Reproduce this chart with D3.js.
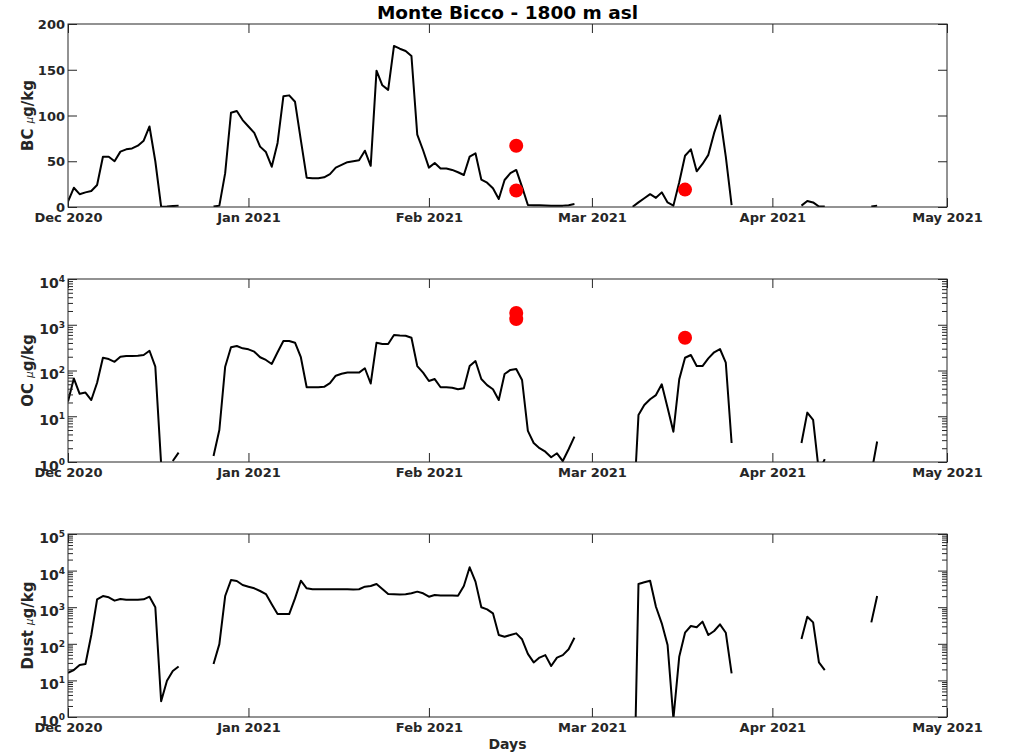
<!DOCTYPE html>
<html>
<head>
<meta charset="utf-8">
<script src="https://cdn.jsdelivr.net/npm/d3@7"></script>
<style>
  body { margin: 0; background: #fff; }
  svg text { font-family: "DejaVu Sans", sans-serif; }
</style>
</head>
<body>
<svg id="chart" width="1010" height="754"></svg>
<script>
// daily series, index 0 = 1 Dec 2020, null = no sample
var startDay = "2020-12-01";
var monthTicks = ["2020-12-01", "2021-01-01", "2021-02-01", "2021-03-01", "2021-04-01", "2021-05-01"];

var bcValues = [
  6, 21, 14, 16, 17.5, 24, 55, 55, 50, 60.5, 63, 64, 67, 72.5, 88, 50, 0.3, 0.5, 1, 1.5,
  null, null, null, null, null,
  0.5, 1.5, 37, 103, 105, 95, 88, 81, 66, 60, 44, 70, 121, 122, 115, 73, 32, 31.5, 31.5, 32.5,
  36, 43, 46, 49, 50, 51, 61.5, 45, 149, 133, 128, 176, 173, 170.5, 165, 79, 62, 43, 48, 42,
  42, 40.5, 38, 35, 55, 58.7, 30, 26.6, 20.4, 8.7, 29.5, 37, 40.5, 22, 2.2, 2, 1.8, 1.6, 1.5, 1.5,
  1.5, 2, 3.3,
  null, null, null, null, null, null, null, null, null,
  0.3, 5, 9.5, 14, 10, 16, 5, 1.5, 27, 56, 63, 39, 47, 57, 81, 100, 55, 2,
  null, null, null, null, null, null, null, null, null, null, null,
  1.5, 6.5, 5, 0.5, 0.5,
  null, null, null, null, null, null, null,
  0.5, 1.5
];

var ocValues = [
  21, 67, 31, 33, 22.6, 54, 190, 178, 155, 200, 207, 207, 210, 218, 270, 121, 0.9, null, 1.05, 1.6,
  null, null, null, null, null,
  1.35, 5, 121, 321, 343, 305, 290, 258, 195, 170, 139, 250, 440, 440, 405, 195, 43, 43, 43, 44,
  53, 77, 85, 90, 90, 90, 112, 52, 405, 380, 380, 597, 580, 575, 521, 125, 90, 59, 65, 43,
  43, 42, 39, 41, 125, 161, 65, 48, 39, 22.6, 84, 103, 108, 62, 4.8, 2.6, 2.0, 1.68, 1.27, 1.55,
  1.05, 1.9, 3.6,
  null, null, null, null, null, null, null, null, null,
  0.04, 10.6, 17.6, 23.5, 29, 50, 15.4, 4.6, 64, 190, 218, 125, 125, 184, 250, 295, 148, 2.6,
  null, null, null, null, null, null, null, null, null, null, null,
  2.6, 12, 8.3, 0.6, 1.16,
  null, null, null, null, null, null, null,
  0.56, 2.8
];

var dustValues = [
  16.2, 19.2, 26.4, 28, 174, 1640, 2020, 1860, 1510, 1670, 1590, 1590, 1590, 1640, 1940, 1000, 2.7, 9.8, 18, 24,
  null, null, null, null, null,
  28, 98, 2020, 5500, 5200, 4040, 3640, 3280, 2770, 2280, 1200, 650, 650, 650, 1740, 5300, 3280, 3100, 3100, 3100,
  3100, 3100, 3100, 3100, 3050, 3100, 3640, 3800, 4300, 3140, 2280, 2250, 2230, 2250, 2400, 2660, 2400, 1940, 2150, 2100,
  2100, 2100, 2050, 3800, 12300, 4990, 1000, 875, 680, 174, 156, 174, 193, 133, 53, 31, 42, 49, 24.7, 42,
  49, 71, 147,
  null, null, null, null, null, null, null, null, null,
  0.0001, 4300, 4800, 5300, 1030, 363, 93, 0.9, 44, 201, 307, 283, 403, 174, 224, 340, 201, 15.6,
  null, null, null, null, null, null, null, null, null, null, null,
  135, 550, 385, 31, 19.2,
  null, null, null, null, null, null, null,
  385, 2020
];

// red markers
var dotDays = ["2021-02-16", "2021-02-16", "2021-03-17"];
var bcDotValues = [67, 18, 19];
var ocDotValues = [1800, 1330, 520];

var bcTicks = [0, 50, 100, 150, 200];

var left = 68, right = 947, H = 183;
var axisColor = "#262626";

var parse = d3.utcParse("%Y-%m-%d");
var day0 = parse(startDay);
var svg = d3.select("#chart");

var x = d3.scaleUtc()
  .domain([parse(monthTicks[0]), parse(monthTicks[monthTicks.length - 1])])
  .range([left, right]);

var panels = [
  { top: 24, name: "BC", values: bcValues, dots: bcDotValues, log: false, domain: [0, 200] },
  { top: 279, name: "OC", values: ocValues, dots: ocDotValues, log: true, domain: [1, 1e4] },
  { top: 534, name: "Dust", values: dustValues, dots: null, log: true, domain: [1, 1e5] }
];

function styleAxis(g) {
  g.select(".domain").remove();
  g.selectAll(".tick line").attr("stroke", axisColor);
  g.selectAll(".tick text")
    .attr("fill", axisColor)
    .attr("font-size", "13px")
    .attr("font-weight", "bold");
}

panels.forEach(function (p, pi) {
  var g = svg.append("g").attr("transform", "translate(0," + p.top + ")");

  var y = (p.log ? d3.scaleLog() : d3.scaleLinear()).domain(p.domain).range([H, 0]);

  g.append("clipPath").attr("id", "clip" + pi)
    .append("rect").attr("x", left).attr("y", 0).attr("width", right - left).attr("height", H);

  var data = p.values.map(function (v, i) {
    return { date: d3.utcDay.offset(day0, i), v: v };
  });

  var line = d3.line()
    .defined(function (d) { return d.v != null; })
    .x(function (d) { return x(d.date); })
    .y(function (d) { return y(d.v); });

  g.append("path")
    .datum(data)
    .attr("clip-path", "url(#clip" + pi + ")")
    .attr("fill", "none")
    .attr("stroke", "#000")
    .attr("stroke-width", 2)
    .attr("stroke-linejoin", "round")
    .attr("d", line);

  if (p.dots) {
    g.selectAll("circle.dot")
      .data(p.dots)
      .enter()
      .append("circle")
      .attr("class", "dot")
      .attr("cx", function (d, i) { return x(parse(dotDays[i])); })
      .attr("cy", function (d) { return y(d); })
      .attr("r", 7)
      .attr("fill", "#ff0000");
  }

  // x axes (bottom labelled, top ticks only)
  var months = monthTicks.map(parse);
  g.append("g")
    .attr("transform", "translate(0," + H + ")")
    .call(d3.axisBottom(x).tickValues(months).tickFormat(d3.utcFormat("%b %Y"))
      .tickSizeInner(-9).tickSizeOuter(0).tickPadding(6))
    .call(styleAxis)
    .selectAll(".tick text").attr("dy", "0.71em");
  g.append("g")
    .call(d3.axisTop(x).tickValues(months).tickFormat("").tickSizeInner(-9).tickSizeOuter(0))
    .call(styleAxis);

  // y axes
  var majors, minors = [];
  if (p.log) {
    var maxExp = Math.round(Math.log10(p.domain[1]));
    majors = d3.range(0, maxExp + 1).map(function (e) { return Math.pow(10, e); });
    d3.range(0, maxExp).forEach(function (e) {
      d3.range(2, 10).forEach(function (k) { minors.push(k * Math.pow(10, e)); });
    });
  } else {
    majors = bcTicks;
  }

  var gl = g.append("g")
    .attr("transform", "translate(" + left + ",0)")
    .call(d3.axisLeft(y).tickValues(majors).tickSizeInner(-9).tickSizeOuter(0).tickPadding(3))
    .call(styleAxis);
  g.append("g")
    .attr("transform", "translate(" + right + ",0)")
    .call(d3.axisRight(y).tickValues(majors).tickFormat("").tickSizeInner(-9).tickSizeOuter(0))
    .call(styleAxis);

  if (p.log) {
    g.append("g")
      .attr("transform", "translate(" + left + ",0)")
      .call(d3.axisLeft(y).tickValues(minors).tickFormat("").tickSizeInner(-5).tickSizeOuter(0))
      .call(styleAxis);
    g.append("g")
      .attr("transform", "translate(" + right + ",0)")
      .call(d3.axisRight(y).tickValues(minors).tickFormat("").tickSizeInner(-5).tickSizeOuter(0))
      .call(styleAxis);

    gl.selectAll(".tick text").each(function (d) {
      var t = d3.select(this);
      var e = Math.round(Math.log10(d));
      t.text(null).attr("dy", "0.6em").attr("font-size", "14px");
      t.append("tspan").text("10");
      t.append("tspan").attr("dy", "-6").attr("font-size", "9px").text(e);
    });
  } else {
    gl.selectAll(".tick text").attr("dy", "0.36em");
  }

  // box
  g.append("rect")
    .attr("x", left).attr("y", 0)
    .attr("width", right - left).attr("height", H)
    .attr("fill", "none")
    .attr("stroke", axisColor)
    .attr("stroke-width", 1);

  // y label
  var lab = g.append("text")
    .attr("transform", "translate(33," + (H / 2) + ") rotate(-90)")
    .attr("text-anchor", "middle")
    .attr("fill", axisColor)
    .attr("font-size", "15px")
    .attr("font-weight", "bold");
  lab.append("tspan").text(p.name + " ");
  lab.append("tspan").attr("font-size", "10px").attr("font-weight", "normal")
    .attr("font-style", "italic").text("\u03bc");
  lab.append("tspan").text("g/kg");
});

svg.append("text")
  .attr("x", (left + right) / 2)
  .attr("y", 19)
  .attr("text-anchor", "middle")
  .attr("font-size", "18.5px")
  .attr("font-weight", "bold")
  .attr("fill", "#000")
  .text("Monte Bicco - 1800 m asl");

svg.append("text")
  .attr("x", (left + right) / 2)
  .attr("y", 749)
  .attr("text-anchor", "middle")
  .attr("font-size", "14px")
  .attr("font-weight", "bold")
  .attr("fill", axisColor)
  .text("Days");
</script>
</body>
</html>
